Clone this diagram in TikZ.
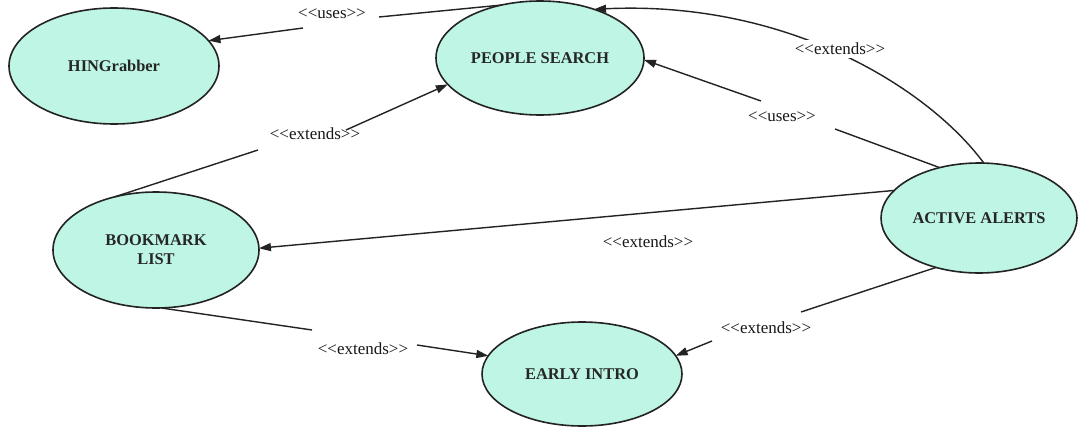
\documentclass[tikz,border=0pt]{standalone}
\usepackage{fontspec}
\setmainfont{Liberation Serif}
\usetikzlibrary{shapes.geometric,arrows.meta}
\definecolor{ucfill}{RGB}{190,245,228}
\definecolor{ucline}{RGB}{35,35,35}
\newcommand\stype[1]{\mbox{<}\mbox{<}#1\mbox{>}\mbox{>}}
\begin{document}
\begin{tikzpicture}[x=1pt,y=-1pt,
  usecase/.style={ellipse,draw=ucline,fill=ucfill,line width=1.6pt,inner sep=0pt,outer sep=0pt,
    font=\fontsize{16.4}{19}\selectfont\bfseries,text=black!85,align=center},
  conn/.style={draw=ucline,line width=1.4pt},
  arrowline/.style={conn,-{Triangle[length=12pt,width=8pt]}},
  stereo/.style={font=\fontsize{17}{19}\selectfont,text=black!90,inner sep=0pt}]
\fill[white] (0,0) rectangle (1078,428);
\useasboundingbox (0,0) rectangle (1078,428);

% use cases
\node[usecase,minimum width=210pt,minimum height=116pt] (hin) at (114,66) {HINGrabber};
\node[usecase,minimum width=208pt,minimum height=114pt] (ps) at (540,58) {PEOPLE SEARCH};
\node[usecase,minimum width=206pt,minimum height=116pt] (bm) at (156,250) {BOOKMARK\\LIST};
\node[usecase,minimum width=200pt,minimum height=104pt] (ei) at (582,374) {EARLY INTRO};
\node[usecase,minimum width=196pt,minimum height=110pt] (aa) at (979,218) {ACTIVE ALERTS};

% ends of the broken connector lines around their labels
\coordinate (u1a) at (379,17);  \coordinate (u1b) at (303,28);
\coordinate (e2a) at (258,150); \coordinate (e2b) at (346,130);
\coordinate (u3a) at (835,129); \coordinate (u3b) at (761,101);
\coordinate (e6a) at (312,330); \coordinate (e6b) at (417,345);
\coordinate (e7a) at (801,312); \coordinate (e7b) at (712,341);

% PEOPLE SEARCH uses HINGrabber
\draw[conn] (ps.126) -- (u1a);
\draw[arrowline] (u1b) -- (hin.15);
\node[stereo] (l1) at (332,14) {\stype{uses}};

% BOOKMARK LIST extends PEOPLE SEARCH
\draw[conn] (bm.128) -- (e2a);
\draw[arrowline] (e2b) -- (ps.196);
\node[stereo] (l2) at (315,134) {\stype{extends}};

% ACTIVE ALERTS uses PEOPLE SEARCH
\draw[conn] (aa.128) -- (u3a);
\draw[arrowline] (u3b) -- (ps.359);
\node[stereo] (l3) at (782,117) {\stype{uses}};

% ACTIVE ALERTS extends PEOPLE SEARCH (arc over the top)
\draw[arrowline] (aa.85) .. controls (930,90) and (790,0) .. (ps.42);
\node[stereo,fill=white,inner sep=3pt] (l4) at (840,49) {\stype{extends}};

% ACTIVE ALERTS extends BOOKMARK LIST
\draw[arrowline] (aa.162) -- (bm.1);
\node[stereo] (l5) at (648,242) {\stype{extends}};

% BOOKMARK LIST extends EARLY INTRO
\draw[conn] (bm.275) -- (e6a);
\draw[arrowline] (e6b) -- (ei.169);
\node[stereo] (l6) at (363,349) {\stype{extends}};

% ACTIVE ALERTS extends EARLY INTRO
\draw[conn] (aa.229) -- (e7a);
\draw[arrowline] (e7b) -- (ei.11);
\node[stereo] (l7) at (766,328) {\stype{extends}};
\end{tikzpicture}
\end{document}
